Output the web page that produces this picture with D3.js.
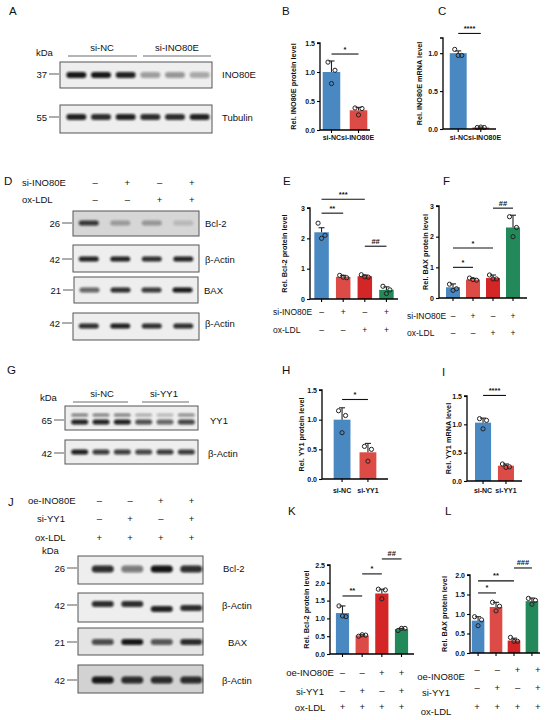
<!DOCTYPE html>
<html><head><meta charset="utf-8">
<script src="https://cdn.jsdelivr.net/npm/d3@7"></script>
<style>body{margin:0;background:#fff}svg{display:block}text{font-family:"Liberation Sans",Arial,sans-serif;fill:#111}</style>
</head><body><svg id="c" width="550" height="720"></svg>
<script>
// ---------- DATA ----------
const catsINO = ["si-NC", "si-INO80E"];
const catsYY1 = ["si-NC", "si-YY1"];
const cats4 = ["g1", "g2", "g3", "g4"];

const bMeans = [1.0, 0.34], bErr = [0.19, 0.05], bPts = [[1.17, 1.03, 0.80], [0.38, 0.37, 0.26]];
const cMeans = [1.0, 0.02], cErr = [0.03, 0.006], cPts = [[1.05, 0.97, 0.97], [0.02, 0.02, 0.025]];
const eMeans = [2.2, 0.73, 0.75, 0.30], eErr = [0.15, 0.05, 0.04, 0.10], ePts = [[2.5, 2.1, 2.0], [0.78, 0.70, 0.72], [0.80, 0.72, 0.73], [0.42, 0.30, 0.18]];
const fMeans = [0.35, 0.60, 0.65, 2.30], fErr = [0.11, 0.04, 0.10, 0.40], fPts = [[0.45, 0.30, 0.25], [0.65, 0.58, 0.60], [0.75, 0.62, 0.62], [2.65, 2.30, 2.00]];
const hMeans = [1.0, 0.45], hErr = [0.20, 0.15], hPts = [[1.15, 1.07, 0.78], [0.55, 0.50, 0.30]];
const iMeans = [1.03, 0.27], iErr = [0.08, 0.03], iPts = [[1.10, 1.07, 0.92], [0.30, 0.25, 0.24]];
const kMeans = [1.15, 0.52, 1.70, 0.70], kErr = [0.20, 0.02, 0.12, 0.02], kPts = [[1.35, 1.05, 1.07], [0.50, 0.53, 0.54], [1.82, 1.80, 1.55], [0.66, 0.72, 0.72]];
const lMeans = [0.83, 1.18, 0.32, 1.33], lErr = [0.10, 0.12, 0.06, 0.08], lPts = [[0.93, 0.85, 0.70], [1.30, 1.20, 1.08], [0.40, 0.30, 0.30], [1.40, 1.35, 1.25]];

const ticks15 = [0, 0.5, 1.0, 1.5], ticks10 = [0, 0.5, 1.0], ticks3 = [0, 1, 2, 3], ticks25 = [0, 0.5, 1.0, 1.5, 2.0, 2.5], ticks20 = [0, 0.5, 1.0, 1.5, 2.0];

// significance: [from, to, value, label]
const bSig = [[0, 1, 1.31, "*"]];
const cSig = [[0, 1, 1.26, "****"]];
const eSig = [[0, 2, 3.29, "***"], [0, 1, 2.83, "**"], [2, 3, 1.74, "##"]];
const fSig = [[0, 1, 1.0, "*"], [0, 2, 1.63, "*"], [2, 3, 2.93, "##"]];
const hSig = [[0, 1, 1.34, "*"]];
const iSig = [[0, 1, 1.51, "****"]];
const kSig = [[0, 1, 1.63, "**"], [1, 2, 2.25, "*"], [2, 3, 2.67, "##"]];
const lSig = [[0, 1, 1.54, "*"], [0, 2, 1.85, "**"], [2, 3, 2.18, "###"]];

// treatment tables
const siINO = ["–", "+", "–", "+"], oxLDLd = ["–", "–", "+", "+"];
const oeINO = ["–", "–", "+", "+"], siYY1 = ["–", "+", "–", "+"], oxLDLj = ["+", "+", "+", "+"];

// blot band intensities
const aINO80E = [0.95, 0.95, 0.9, 0.35, 0.38, 0.3], aTub = [0.9, 0.85, 0.9, 0.85, 0.85, 0.9];
const dBcl2 = [0.8, 0.3, 0.32, 0.15], dActin1 = [0.9, 0.9, 0.85, 0.9], dBAX = [0.6, 0.85, 0.8, 0.95], dActin2 = [0.85, 0.92, 0.85, 0.85];
const gYY1up = [0.5, 0.5, 0.5, 0.3, 0.25, 0.45], gYY1lo = [0.9, 0.9, 0.92, 0.7, 0.6, 0.75], gActin = [0.92, 0.8, 0.78, 0.75, 0.8, 0.8];
const jBcl2 = [0.85, 0.5, 0.97, 0.85], jActin1 = [0.85, 0.85, 0.9, 0.85], jBAX = [0.7, 0.95, 0.65, 0.85], jActin2 = [0.95, 0.85, 0.85, 0.85];

const cBlue = "#4a88c2", cRed1 = "#dc4b45", cRed2 = "#d42626", cGreen = "#23895a";

// ---------- DRAW ----------
const svg = d3.select("#c");
const defs = svg.append("defs");
defs.append("filter").attr("id", "blur").attr("x", "-50%").attr("y", "-100%").attr("width", "200%").attr("height", "300%")
  .append("feGaussianBlur").attr("stdDeviation", 1.3);
const FONT = '"Liberation Sans",Arial,sans-serif';

function txt(x, y, s, size, opts = {}) {
  const t = svg.append("text").attr("x", x).attr("y", y).text(s).attr("font-size", size);
  if (opts.anchor) t.attr("text-anchor", opts.anchor);
  if (opts.bold) t.attr("font-weight", "bold");
  return t;
}

function barChart(o) {
  const g = svg.append("g");
  const x = d3.scaleBand().domain(o.cats).range([o.x0, o.x1]).paddingInner(o.inner).paddingOuter(o.outer);
  const y = d3.scaleLinear().domain([0, o.max]).range([o.yBot, o.yTop]);
  const bw = x.bandwidth();
  g.selectAll("rect.bar").data(o.means).join("rect")
    .attr("x", (d, i) => x(o.cats[i])).attr("y", d => y(d))
    .attr("width", bw).attr("height", d => y(0) - y(d))
    .attr("fill", (d, i) => o.colors[i]);
  o.means.forEach((m, i) => {
    const cx = x(o.cats[i]) + bw / 2;
    g.append("line").attr("x1", cx).attr("x2", cx).attr("y1", y(m)).attr("y2", y(m + o.errs[i])).attr("stroke", "#222").attr("stroke-width", 1.1);
    g.append("line").attr("x1", cx - 3).attr("x2", cx + 3).attr("y1", y(m + o.errs[i])).attr("y2", y(m + o.errs[i])).attr("stroke", "#222").attr("stroke-width", 1.1);
    const off = [-3.5, 3.5, 0];
    o.pts[i].forEach((p, k) => {
      g.append("circle").attr("cx", cx + off[k]).attr("cy", y(p)).attr("r", 2.1)
        .attr("fill", "none").attr("stroke", "#222").attr("stroke-width", 1);
    });
  });
  const ya = d3.axisLeft(y).tickValues(o.ticks).tickFormat(d3.format(o.fmt)).tickSize(3).tickPadding(2);
  const yg = g.append("g").attr("transform", `translate(${o.x0},0)`).call(ya);
  yg.select(".domain").attr("d", `M-3,${o.yTop}H0V${o.yBot}`).attr("stroke-width", 1.3);
  yg.selectAll("text").attr("font-size", 7).attr("font-weight", "bold").attr("font-family", FONT);
  yg.selectAll(".tick line").attr("stroke-width", 1.1);
  const xa = d3.axisBottom(x).tickSize(3).tickFormat("");
  const xg = g.append("g").attr("transform", `translate(0,${o.yBot})`).call(xa);
  xg.select(".domain").attr("d", `M${o.x0},0H${o.x1}`).attr("stroke-width", 1.3);
  xg.selectAll(".tick line").attr("stroke-width", 1.1);
  if (o.catLabels) {
    if (o.split != null) {
      txt(o.split, o.catY, o.catLabels[0], 7, { anchor: "end", bold: true });
      txt(o.split, o.catY, o.catLabels[1], 7, { anchor: "start", bold: true });
    } else {
      o.cats.forEach((c, i) => txt(x(c) + bw / 2, o.catY, o.catLabels[i], 7, { anchor: "middle", bold: true }));
    }
  }
  const ym = (o.yTop + o.yBot) / 2;
  svg.append("text").attr("transform", `translate(${o.ylx},${ym}) rotate(-90)`).attr("text-anchor", "middle")
    .attr("font-size", 7.3).attr("font-weight", "bold").text(o.ylabel);
  o.sigs.forEach(s => {
    const xa1 = x(o.cats[s[0]]) + bw / 2, xa2 = x(o.cats[s[1]]) + bw / 2;
    g.append("line").attr("x1", xa1).attr("x2", xa2).attr("y1", y(s[2])).attr("y2", y(s[2])).attr("stroke", "#111").attr("stroke-width", 1.1);
    txt((xa1 + xa2) / 2, y(s[2]) - 2.5, s[3], 7.5, { anchor: "middle", bold: true });
  });
  return x;
}

function table(rows, xpos, ys, labelX, labelYs, size, anchor) {
  rows.forEach((r, ri) => {
    txt(labelX[ri], labelYs[ri], r.label, size, { anchor: anchor });
    r.vals.forEach((v, i) => txt(xpos(i), ys[ri], v, size, { anchor: "middle" }));
  });
}

function blot(o) {
  const g = svg.append("g");
  g.append("rect").attr("x", o.x).attr("y", o.y).attr("width", o.w).attr("height", o.h)
    .attr("fill", o.bg || "#eeeeee").attr("stroke", "#555").attr("stroke-width", 1);
  const lane = d3.scalePoint().domain(d3.range(o.n)).range([o.x + o.l0, o.x + o.l1]).padding(0.5);
  o.bands.forEach(b => {
    g.selectAll(null).data(b.vals).join("rect")
      .attr("x", (d, i) => lane(i) - o.bw / 2).attr("y", (d, i) => o.y + (b.dy ? b.dy[i] : b.cy) - b.h / 2)
      .attr("width", o.bw).attr("height", b.h).attr("rx", b.h / 2)
      .attr("fill", "#0d0d0d").attr("opacity", d => d).attr("filter", "url(#blur)");
  });
  if (o.kda) {
    txt(o.x - 13, o.y + o.mark + 3.5, o.kda, 9.5, { anchor: "end" });
    g.append("line").attr("x1", o.x - 11).attr("x2", o.x - 1).attr("y1", o.y + o.mark).attr("y2", o.y + o.mark).attr("stroke", "#333").attr("stroke-width", 0.8);
  }
  txt(o.x + o.w + o.lblDx, o.y + o.mark + 3.5, o.label, 9.5);
}

// ---- Panel letters ----
[["A", 9, 15], ["B", 282, 15], ["C", 438, 15], ["D", 4, 185], ["E", 283, 185], ["F", 443, 185],
 ["G", 7, 374], ["H", 282, 374], ["I", 442, 376], ["J", 8, 506], ["K", 288, 515], ["L", 445, 515]]
  .forEach(p => txt(p[1], p[2], p[0], 11.5));

// ---- A ----
txt(36, 56, "kDa", 9.5);
txt(102, 51, "si-NC", 9.5, { anchor: "middle" });
txt(177, 51, "si-INO80E", 9.5, { anchor: "middle" });
svg.append("line").attr("x1", 68).attr("x2", 137).attr("y1", 56).attr("y2", 56).attr("stroke", "#444").attr("stroke-width", 0.8);
svg.append("line").attr("x1", 143).attr("x2", 211).attr("y1", 56).attr("y2", 56).attr("stroke", "#444").attr("stroke-width", 0.8);
blot({ x: 60, y: 62, w: 152, h: 26, n: 6, l0: 4, l1: 152, bw: 20, bands: [{ vals: aINO80E, cy: 13, h: 6 }], kda: "37", mark: 12, label: "INO80E", lblDx: 10 });
blot({ x: 60, y: 105, w: 152, h: 28, n: 6, l0: 4, l1: 152, bw: 20, bands: [{ vals: aTub, cy: 12, h: 6 }], kda: "55", mark: 12, label: "Tubulin", lblDx: 10 });

// ---- D ----
const dMarks = d3.scalePoint().domain(d3.range(4)).range([79, 208]).padding(0.5);
table([{ label: "si-INO80E", vals: siINO }, { label: "ox-LDL", vals: oxLDLd }], i => dMarks(i), [186, 203], [22, 22], [186, 203], 9.5, "start");
blot({ x: 73, y: 211, w: 126, h: 25, n: 4, l0: 0, l1: 126, bw: 20, bg: "#d6d6d6", bands: [{ vals: dBcl2, cy: 12, h: 5 }], kda: "26", mark: 12, label: "Bcl-2", lblDx: 6 });
blot({ x: 73, y: 245, w: 126, h: 27, n: 4, l0: 0, l1: 126, bw: 20, bands: [{ vals: dActin1, cy: 14, h: 5 }], kda: "42", mark: 14, label: "β-Actin", lblDx: 6 });
blot({ x: 74, y: 277, w: 124, h: 26, n: 4, l0: 0, l1: 124, bw: 20, bands: [{ vals: dBAX, cy: 13, h: 5 }], kda: "21", mark: 13, label: "BAX", lblDx: 6 });
blot({ x: 73, y: 313, w: 126, h: 27, n: 4, l0: 0, l1: 126, bw: 20, bands: [{ vals: dActin2, cy: 13, h: 5 }], kda: "42", mark: 10, label: "β-Actin", lblDx: 6 });

// ---- G ----
txt(40, 401, "kDa", 9.5);
txt(102, 397, "si-NC", 9.5, { anchor: "middle" });
txt(164, 397, "si-YY1", 9.5, { anchor: "middle" });
svg.append("line").attr("x1", 73).attr("x2", 128).attr("y1", 402).attr("y2", 402).attr("stroke", "#444").attr("stroke-width", 0.8);
svg.append("line").attr("x1", 142).attr("x2", 189).attr("y1", 402).attr("y2", 402).attr("stroke", "#444").attr("stroke-width", 0.8);
blot({ x: 65, y: 406, w: 133, h: 24, n: 6, l0: 4, l1: 132, bw: 17, bands: [{ vals: gYY1up, cy: 9, h: 3 }, { vals: gYY1lo, cy: 16, h: 5 }], kda: "65", mark: 14, label: "YY1", lblDx: 12 });
blot({ x: 65, y: 440, w: 133, h: 24, n: 6, l0: 4, l1: 132, bw: 17, bands: [{ vals: gActin, cy: 12, h: 5 }], kda: "42", mark: 13, label: "β-Actin", lblDx: 10 });

// ---- J ----
const jMarks = d3.scalePoint().domain(d3.range(4)).range([84, 207]).padding(0.5);
table([{ label: "oe-INO80E", vals: oeINO }, { label: "si-YY1", vals: siYY1 }, { label: "ox-LDL", vals: oxLDLj }],
  i => jMarks(i), [504, 522, 541], [28, 37, 35], [504, 522, 541], 9.5, "start");
txt(42, 554, "kDa", 9.5);
blot({ x: 78, y: 556, w: 125, h: 28, n: 4, l0: 10, l1: 128, bw: 22, bands: [{ vals: jBcl2, cy: 13, h: 7 }], kda: "26", mark: 12, label: "Bcl-2", lblDx: 20 });
blot({ x: 78, y: 593, w: 125, h: 29, n: 4, l0: 10, l1: 128, bw: 22, bands: [{ vals: jActin1, dy: [11, 11, 16, 15], h: 6 }], kda: "42", mark: 12, label: "β-Actin", lblDx: 19 });
blot({ x: 78, y: 628, w: 125, h: 27, n: 4, l0: 10, l1: 128, bw: 22, bg: "#e4e4e4", bands: [{ vals: jBAX, cy: 14, h: 6 }], kda: "21", mark: 14, label: "BAX", lblDx: 25 });
blot({ x: 78, y: 665, w: 125, h: 28, n: 4, l0: 10, l1: 128, bw: 22, bg: "#d2d2d2", bands: [{ vals: jActin2, cy: 15, h: 7 }], kda: "42", mark: 15, label: "β-Actin", lblDx: 19 });

// ---- Bar charts ----
barChart({ x0: 320, x1: 370, yTop: 43, yBot: 130, max: 1.5, ticks: ticks15, fmt: ".1f", cats: catsINO, means: bMeans, errs: bErr, pts: bPts,
  colors: [cBlue, cRed1], sigs: bSig, inner: 0.35, outer: 0.1, ylabel: "Rel. INO80E protein level", ylx: 296, catLabels: catsINO, catY: 140, split: 341 });
barChart({ x0: 443, x1: 496, yTop: 38, yBot: 129, max: 1.2, ticks: ticks10, fmt: ".1f", cats: catsINO, means: cMeans, errs: cErr, pts: cPts,
  colors: [cBlue, cRed1], sigs: cSig, inner: 0.25, outer: 0.3, ylabel: "Rel. INO80E mRNA level", ylx: 422, catLabels: catsINO, catY: 140, split: 468 });

const ex = barChart({ x0: 310, x1: 398, yTop: 208, yBot: 299, max: 3, ticks: ticks3, fmt: "d", cats: cats4, means: eMeans, errs: eErr, pts: ePts,
  colors: [cBlue, cRed1, cRed2, cGreen], sigs: eSig, inner: 0.33, outer: 0.2, ylabel: "Rel. Bcl-2 protein level", ylx: 287 });
table([{ label: "si-INO80E", vals: siINO }, { label: "ox-LDL", vals: oxLDLd }], i => ex(cats4[i]) + ex.bandwidth() / 2, [315, 333], [273, 273], [315, 333], 8.5, "start");

const fx = barChart({ x0: 439, x1: 527, yTop: 206, yBot: 298, max: 3, ticks: ticks3, fmt: "d", cats: cats4, means: fMeans, errs: fErr, pts: fPts,
  colors: [cBlue, cRed1, cRed2, cGreen], sigs: fSig, inner: 0.3, outer: 0.35, ylabel: "Rel. BAX protein level", ylx: 428 });
table([{ label: "si-INO80E", vals: siINO }, { label: "ox-LDL", vals: oxLDLd }], i => fx(cats4[i]) + fx.bandwidth() / 2, [319, 336], [407, 407], [319, 336], 8.5, "start");

barChart({ x0: 322, x1: 388, yTop: 390, yBot: 479, max: 1.5, ticks: ticks15, fmt: ".1f", cats: catsYY1, means: hMeans, errs: hErr, pts: hPts,
  colors: [cBlue, cRed1], sigs: hSig, inner: 0.35, outer: 0.45, ylabel: "Rel. YY1 protein level", ylx: 304, catLabels: catsYY1, catY: 493 });
barChart({ x0: 467, x1: 522, yTop: 396, yBot: 481, max: 1.5, ticks: ticks15, fmt: ".1f", cats: catsYY1, means: iMeans, errs: iErr, pts: iPts,
  colors: [cBlue, cRed1], sigs: iSig, inner: 0.3, outer: 0.35, ylabel: "Rel. YY1 mRNA level", ylx: 451, catLabels: catsYY1, catY: 493 });

const kx = barChart({ x0: 330, x1: 414, yTop: 565, yBot: 654, max: 2.5, ticks: ticks25, fmt: ".1f", cats: cats4, means: kMeans, errs: kErr, pts: kPts,
  colors: [cBlue, cRed1, cRed2, cGreen], sigs: kSig, inner: 0.33, outer: 0.3, ylabel: "Rel. Bcl-2 protein level", ylx: 309 });
table([{ label: "oe-INO80E", vals: oeINO }, { label: "si-YY1", vals: siYY1 }, { label: "ox-LDL", vals: oxLDLj }],
  i => kx(cats4[i]) + kx.bandwidth() / 2, [676, 694, 710], [310, 310, 310], [676, 695, 711], 9.5, "middle");

barChart({ x0: 470, x1: 540, yTop: 575, yBot: 653, max: 2.0, ticks: ticks20, fmt: ".1f", cats: cats4, means: lMeans, errs: lErr, pts: lPts,
  colors: [cBlue, cRed1, cRed2, cGreen], sigs: lSig, inner: 0.3, outer: 0.1, ylabel: "Rel. BAX protein level", ylx: 447 });
const lMarks = d3.scalePoint().domain(d3.range(4)).range([467, 548]).padding(0.5);
table([{ label: "oe-INO80E", vals: oeINO }, { label: "si-YY1", vals: siYY1 }, { label: "ox-LDL", vals: oxLDLj }],
  i => lMarks(i), [673, 691, 710], [441, 436, 436], [680, 696, 715], 9.5, "middle");
</script>
</body></html>
